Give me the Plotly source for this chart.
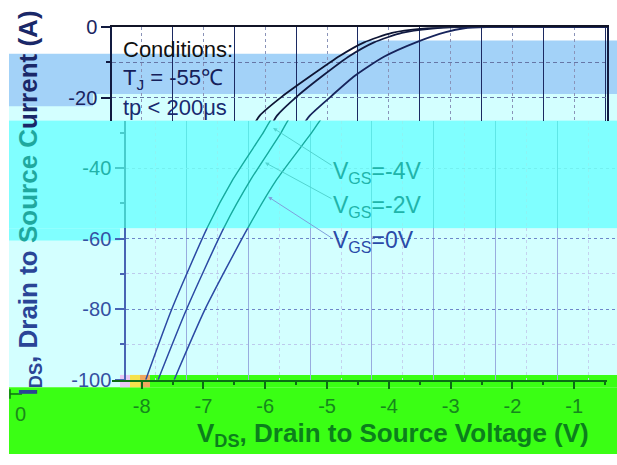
import plotly.graph_objects as go

# ---------------- data ----------------
vgs_labels = ["V<sub>GS</sub>=-4V", "V<sub>GS</sub>=-2V", "V<sub>GS</sub>=0V"]

vds_vgs_m4 = [-8.16, -7.74, -7.16, -6.75, -6.28, -6.09, -5.73, -5.24, -4.79, -4.40, -3.95, -3.45, -3.00, -0.40]
ids_vgs_m4 = [-100, -80, -56.7, -43.2, -30.5, -25.1, -19.7, -13.5, -8.1, -4.3, -1.6, -0.4, 0, 0]

vds_vgs_m2 = [-7.96, -7.50, -6.89, -6.46, -5.99, -5.81, -5.49, -5.05, -4.63, -4.24, -3.79, -3.30, -2.90, -0.40]
ids_vgs_m2 = [-100, -80, -56.7, -43.2, -30.5, -25.1, -19.7, -13.5, -8.1, -4.3, -1.6, -0.4, 0, 0]

vds_vgs_0 = [-7.70, -7.20, -6.50, -6.04, -5.50, -5.28, -4.94, -4.55, -4.08, -3.53, -3.08, -2.78, -2.42, -0.40]
ids_vgs_0 = [-100, -80, -56.7, -43.2, -30.5, -25.1, -19.7, -13.8, -8.4, -4.1, -1.4, -0.3, 0, 0]

x_tick_vals = [-8, -7, -6, -5, -4, -3, -2, -1]
x_tick_text = ["-8", "-7", "-6", "-5", "-4", "-3", "-2", "-1"]
y_tick_vals = [0, -20, -40, -60, -80, -100]
y_tick_text = ["0", "-20", "-40", "-60", "-80", "-100"]
y_minor_vals = [-10, -30, -50, -70, -90]

# leader tips (V, A) for the three labels
leader_tip_v = [-6.10, -6.23, -6.18]
leader_tip_i = [-28.6, -38.4, -48.1]

curves = [(vds_vgs_m4, ids_vgs_m4), (vds_vgs_m2, ids_vgs_m2), (vds_vgs_0, ids_vgs_0)]

# ---------------- geometry helpers ----------------
W, H = 617, 465
def fx(p):
    return p / W
def fy(p):
    return 1 - p / H

XS = 61.8   # px per volt
YS = 3.7    # px per amp
Y0PX = 17   # pixel of 0 A
XA = [-8.48, -8.48 + (607 - 112) / XS]
XB = [-8.48, -8.48 + (617 - 126) / XS]
YA0 = -(115 - Y0PX) / YS
YB0 = -(228 - Y0PX) / YS
half_vals = [v + 0.5 for v in x_tick_vals]

FONT = "Liberation Sans, Arial, sans-serif"

fig = go.Figure()

band_styles = [
    ("x", "y", ["#0e1534", "#111a42", "#17245c"], 1.8),
    ("x2", "y2", ["#16aa9e", "#16aa9e", "#16aa9e"], 1.4),
    ("x3", "y3", ["#2c4aa4", "#2c4aa4", "#2c4aa4"], 1.5),
]
for xa, ya, cols, w in band_styles:
    for (vx, iy), c in zip(curves, cols):
        fig.add_trace(go.Scatter(x=vx, y=iy, mode="lines", xaxis=xa, yaxis=ya,
                                 line=dict(color=c, width=w, shape="spline", smoothing=0.6),
                                 showlegend=False, hoverinfo="skip"))
fig.add_trace(go.Scatter(x=[None], y=[None], xaxis="x4", yaxis="y4", showlegend=False, hoverinfo="skip"))

# ---------------- background bands ----------------
shapes = []
def rect(x0, y0, x1, y1, color):
    shapes.append(dict(type="rect", xref="paper", yref="paper", x0=fx(x0), x1=fx(x1),
                       y0=fy(y1), y1=fy(y0), fillcolor=color, line_width=0, layer="below"))

BLUE = "#a3d2f8"
LCYAN = "#d3ffff"
CYAN = "#80ffff"
GREEN = "#3aff14"
rect(9, 87, 617, 115, LCYAN)
rect(9, 45, 358, 87, BLUE)
rect(358, 31, 617, 87, BLUE)
rect(9, 87, 93, 100, BLUE)
rect(9, 228, 617, 395, LCYAN)
rect(9, 115, 617, 228, CYAN)
rect(9, 228, 120, 241, CYAN)
rect(150, 382, 617, 395, GREEN)
rect(9, 395, 617, 465, GREEN)
rect(120, 382, 130, 395, "#e8c8f4")
rect(130, 382, 140, 395, "#f6e24c")
rect(140, 382, 150, 395, "#f0a860")
shapes.append(dict(type="line", xref="paper", yref="paper", x0=fx(10), x1=fx(10), y0=fy(407), y1=fy(397),
                   line=dict(color="#0e6e14", width=1.5)))
shapes.append(dict(type="line", xref="paper", yref="paper", x0=fx(10), x1=fx(22), y0=fy(402), y1=fy(402),
                   line=dict(color="#0e6e14", width=1.5)))

# ---------------- axes ----------------
layout_axes = dict(
    xaxis=dict(domain=[fx(112), fx(607)], range=XA, anchor="y", side="top", showline=True,
               linecolor="#111426", linewidth=1.5, ticks="", showticklabels=False,
               tickmode="array", tickvals=half_vals, showgrid=True, gridcolor="#1c2a62", gridwidth=1,
               zeroline=False,
               minor=dict(tickmode="array", tickvals=x_tick_vals, showgrid=True, gridcolor="#8a93b8",
                          griddash="3px,3px", gridwidth=1, ticks="")),
    yaxis=dict(domain=[fy(115), fy(17)], range=[YA0, 0], anchor="x", showline=True,
               linecolor="#111a40", linewidth=1.5, mirror=True, ticks="outside", ticklen=9,
               tickwidth=1.5, tickcolor="#111a40", tickmode="array", tickvals=y_tick_vals,
               ticktext=y_tick_text, tickfont=dict(size=20, color="#1a2560", family=FONT),
               showgrid=True, gridcolor="#6676a6", griddash="4px,3px", zeroline=False,
               minor=dict(tickmode="array", tickvals=y_minor_vals, ticks="outside", ticklen=4,
                          tickcolor="#111a40", showgrid=True, gridcolor="#6676a6", griddash="4px,3px")),
    xaxis2=dict(domain=[fx(126), 1], range=XB, anchor="y2", showline=False, ticks="",
                showticklabels=False, tickmode="array", tickvals=half_vals, showgrid=True,
                gridcolor="#5fe6e6", gridwidth=1, zeroline=False,
                minor=dict(tickmode="array", tickvals=x_tick_vals, showgrid=True, gridcolor="#8cf4f4",
                           griddash="dot", ticks="")),
    yaxis2=dict(domain=[fy(228), fy(115)], range=[YB0, YA0], anchor="x2", showline=True,
                linecolor="#48cccc", linewidth=1.5, ticks="outside", ticklen=9, tickwidth=1.5,
                tickcolor="#48cccc", tickmode="array", tickvals=y_tick_vals, ticktext=y_tick_text,
                tickfont=dict(size=20, color="#22b2a8", family=FONT), showgrid=True,
                gridcolor="#74f0f0", griddash="3px,3px", zeroline=False,
                minor=dict(tickmode="array", tickvals=y_minor_vals, ticks="outside", ticklen=4,
                           tickcolor="#48cccc", showgrid=False)),
    xaxis3=dict(domain=[fx(126), 1], range=XB, anchor="y3", showline=False, ticks="",
                showticklabels=False, tickmode="array", tickvals=half_vals, showgrid=True,
                gridcolor="#98acde", gridwidth=1.3, zeroline=False,
                minor=dict(tickmode="array", tickvals=x_tick_vals, showgrid=True, gridcolor="#c4d2ee",
                           griddash="dot", ticks="")),
    yaxis3=dict(domain=[fy(387), fy(228)], range=[-100, YB0], anchor="x3", showline=True,
                linecolor="#4864b4", linewidth=1.5, ticks="outside", ticklen=9, tickwidth=1.5,
                tickcolor="#4864b4", tickmode="array", tickvals=y_tick_vals, ticktext=y_tick_text,
                tickfont=dict(size=20, color="#3450a2", family=FONT), showgrid=True,
                gridcolor="#6e86c8", griddash="3px,3px", zeroline=False,
                minor=dict(tickmode="array", tickvals=y_minor_vals, ticks="outside", ticklen=4,
                           tickcolor="#4864b4", showgrid=True, gridcolor="#bccaec", griddash="dot")),
    xaxis4=dict(domain=[fx(112), fx(607)], range=XA, anchor="y4", side="bottom", showline=True,
                linecolor="#0b6e14", linewidth=1.5, ticks="outside", ticklen=8, tickwidth=1.5,
                tickcolor="#0b6e14", tickmode="array", tickvals=x_tick_vals, ticktext=x_tick_text,
                tickfont=dict(size=20, color="#15881c", family=FONT), showgrid=False, zeroline=False,
                minor=dict(tickmode="array", tickvals=half_vals, ticks="outside", ticklen=4,
                           tickcolor="#0b6e14", showgrid=False)),
    yaxis4=dict(domain=[fy(387), fy(370)], range=[0, 1], anchor="x4", visible=False),
)

# ---------------- annotations ----------------
ann = []
def text(xp, yp, s, size, color, xanchor="left"):
    ann.append(dict(x=fx(xp), y=fy(yp), xref="paper", yref="paper", text=s, showarrow=False,
                    xanchor=xanchor, yanchor="middle",
                    font=dict(size=size, color=color, family=FONT)))

text(121, 40, "Conditions:", 22, "#111111")
text(121, 71, "T<sub>J</sub> = -55℃", 22, "#15205a")
text(121, 101, "tp &lt; 200μs", 22, "#1a2a70")

label_pos = [(331, 170, "#20b4aa"), (331, 205, "#20b4aa"), (331, 242, "#2a4aa8")]
for lab, (xp, yp, c) in zip(vgs_labels, label_pos):
    text(xp, yp, lab, 23, c)

tails = [(333, 161), (333, 196), (333, 237)]
tail_colors = ["#52d4d0", "#52d4d0", "#7fa0dc"]
for tv, ti, (tx, ty), ac in zip(leader_tip_v, leader_tip_i, tails, tail_colors):
    tipx = 126 + (tv - XB[0]) * XS
    tipy = Y0PX - ti * YS
    ann.append(dict(x=tv, y=ti, xref="x2", yref="y2", text="", showarrow=True,
                    ax=tx - tipx, ay=ty - tipy, arrowhead=2, arrowsize=0.8, arrowwidth=1,
                    arrowcolor=ac))

title_y = ('I<sub>DS</sub>, Drain to <span style="color:#1fa89e">Source C</span>'
           '<span style="color:#1a2868">urrent (A)</span>')
ann.append(dict(x=fx(29), y=fy(202), xref="paper", yref="paper", text="<b>" + title_y + "</b>",
                showarrow=False, textangle=-90, xanchor="center", yanchor="middle",
                font=dict(size=26, color="#2a4596", family=FONT)))
ann.append(dict(x=fx(393), y=fy(445), xref="paper", yref="paper",
                text="<b>V<sub>DS</sub>, Drain to Source Voltage (V)</b>",
                showarrow=False, xanchor="center", yanchor="middle",
                font=dict(size=26, color="#0b7f1c", family=FONT)))
text(20, 423, "0", 20, "#1a8a1a", xanchor="center")

fig.update_layout(
    width=W, height=H, autosize=False,
    margin=dict(l=0, r=0, t=0, b=0),
    paper_bgcolor="white", plot_bgcolor="rgba(0,0,0,0)",
    showlegend=False, shapes=shapes, annotations=ann,
    font=dict(family=FONT),
    **layout_axes,
)

fig.write_html("out.html", config={"displayModeBar": False},
               post_script="document.body.style.margin='0';")
